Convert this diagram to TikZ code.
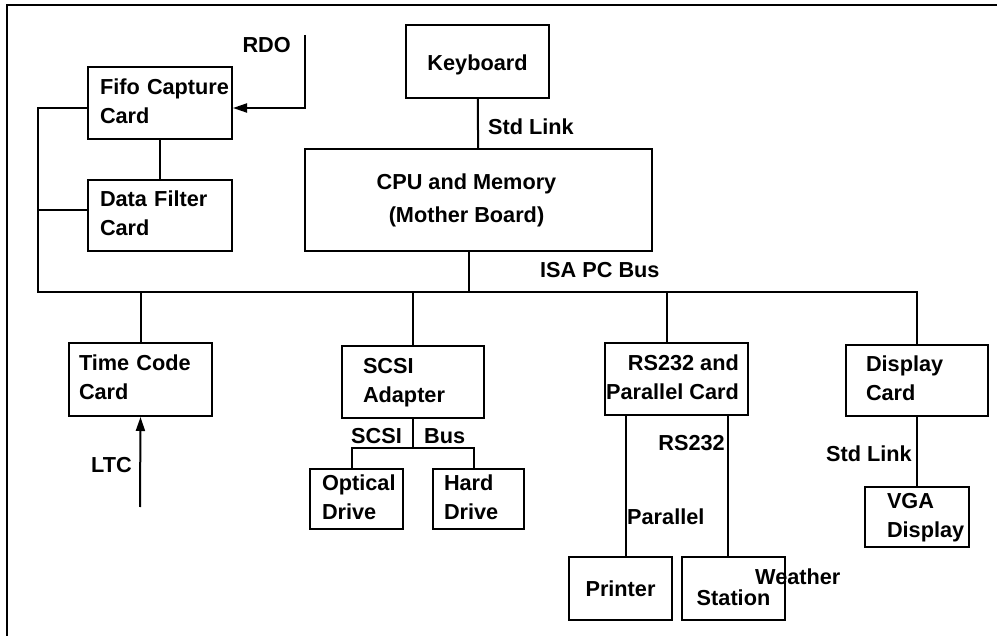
\documentclass[tikz,border=0pt]{standalone}
\usepackage{fontspec}
\setmainfont{Liberation Sans}
\usetikzlibrary{arrows.meta}
\newcommand{\lefttext}[2]{\begin{tabular}{@{\hspace{#1pt}}l@{}}#2\end{tabular}}
\newcommand{\righttext}[2]{\begin{tabular}{@{}r@{\hspace{#1pt}}}#2\end{tabular}}

\begin{document}
\begin{tikzpicture}[
    x=1pt, y=-1pt,
    every node/.style={font=\fontsize{21.7}{29}\selectfont\bfseries},
    box/.style={draw, line width=2pt, inner xsep=0pt, inner ysep=0pt},
    lbox/.style={box, align=left},
    wire/.style={line width=2pt},
    arrow/.style={wire, -{Triangle[length=14pt,width=9pt]}},
    tag/.style={anchor=base, inner sep=0pt},
]
\useasboundingbox (0,0) rectangle (997,636);
\draw[line width=2pt] (7,636) -- (7,5) -- (997,5);

% boxes
\node[lbox, text width=144pt, minimum height=72pt] (fifo) at (160,103) {\lefttext{12}{Fifo Capture\\Card}};
\node[lbox, text width=144pt, minimum height=71pt] (filter) at (160,215.5) {\lefttext{12}{Data Filter\\Card}};
\node[box, minimum width=143pt, minimum height=73pt, text height=19pt, text depth=0pt] (keyb) at (477.5,61.5) {Keyboard};
\node[box, minimum width=347pt, minimum height=102pt] (cpu) at (478.5,200) {\begin{tabular}{@{}c@{\hspace{24pt}}}CPU and Memory\\[4pt](Mother Board)\end{tabular}};
\node[lbox, text width=143pt, minimum height=73pt] (timecode) at (140.5,379.5) {\lefttext{10}{Time Code\\Card}};
\node[lbox, text width=142pt, minimum height=72pt] (scsi) at (413,382) {\lefttext{21}{SCSI\\Adapter}};
\node[lbox, text width=93pt, minimum height=60pt] (optical) at (356.5,499) {\lefttext{12}{Optical\\Drive}};
\node[lbox, text width=91pt, minimum height=60pt] (hard) at (478.5,499) {\lefttext{11}{Hard\\Drive}};
\node[box, minimum width=143pt, minimum height=72pt] (rs) at (676.5,379) {\righttext{8}{RS232 and\\Parallel Card}};
\node[box, minimum width=103pt, minimum height=63pt] (printer) at (620.5,588.5) {Printer};
\node[box, minimum width=103pt, minimum height=63pt, text height=33pt, text depth=0pt] (station) at (733.5,588.5) {Station};
\node[lbox, text width=142pt, minimum height=71pt] (display) at (917,380.5) {\lefttext{20}{Display\\Card}};
\node[lbox, text width=104pt, minimum height=60pt] (vga) at (917,517) {\lefttext{22}{VGA\\Display}};

% connectors
\coordinate (busL) at (38,292);
\coordinate (rdo) at (305,35);
\coordinate (ltc) at (140,507);
\draw[wire] ([yshift=-5pt]fifo.west) -| (busL) -- (busL -| display.north) -- (display.north);
\draw[wire] ([yshift=5.5pt]filter.west) -- ([yshift=5.5pt]filter.west -| busL);
\draw[wire] (fifo) -- (filter);
\draw[arrow] (rdo) |- ([yshift=-5pt]fifo.east);
\draw[wire] (keyb) -- (cpu);
\draw[wire] ([xshift=-10pt]cpu.south) -- ([xshift=-10pt]cpu.south |- busL);
\draw[wire] (timecode.north |- busL) -- (timecode.north);
\draw[wire] (scsi.north |- busL) -- (scsi.north);
\draw[wire] ([xshift=-9.5pt]rs.north |- busL) -- ([xshift=-9.5pt]rs.north);
\draw[arrow] (ltc) -- (timecode.south);
\draw[wire] (scsi.south) -- ++(0,29) coordinate (scsibus);
\draw[wire] ([xshift=-4.5pt]optical.north) |- (scsibus) -| ([xshift=-4.5pt]hard.north);
\draw[wire] ([xshift=5.5pt]printer.north) -- ([xshift=5.5pt]printer.north |- rs.south);
\draw[wire] ([xshift=-5.5pt]station.north) -- ([xshift=-5.5pt]station.north |- rs.south);
\draw[wire] (display) -- (vga);

% labels
\node[tag, anchor=base east] (rdotag) at (291,53) {RDO};
\node[tag, anchor=base west] (kblink) at (488,135) {Std Link};
\node[tag, anchor=base west] (isa) at (540,278) {ISA PC Bus};
\node[tag, anchor=base east] (ltctag) at (132,473) {LTC};
\node[tag, anchor=base east] (scsitag) at (402,444) {SCSI};
\node[tag, anchor=base west] (bustag) at (424,444) {Bus};
\node[tag, anchor=base east] (rstag) at (725,451) {RS232};
\node[tag, anchor=base west] (partag) at (627,525) {Parallel};
\node[tag, anchor=base east] (vgalink) at (912,462) {Std Link};
\node[tag, anchor=base west] (weather) at (755,584) {Weather};
\end{tikzpicture}
\end{document}
